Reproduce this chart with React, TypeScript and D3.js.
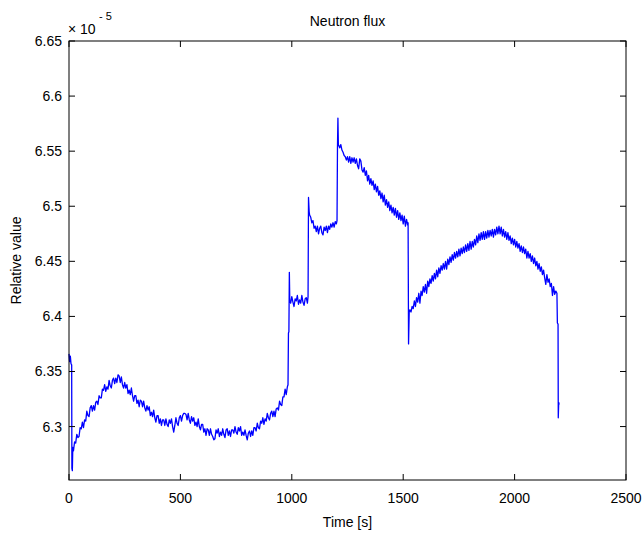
import React from "react";
import * as d3 from "d3";

const title = "Neutron flux";
const xLabel = "Time [s]";
const yLabel = "Relative value";
const xTicks = [0, 500, 1000, 1500, 2000, 2500];
const yTicks = [6.3, 6.35, 6.4, 6.45, 6.5, 6.55, 6.6, 6.65];
const yTickLabels = ["6.3", "6.35", "6.4", "6.45", "6.5", "6.55", "6.6", "6.65"];
const xDomain = [0, 2500];
const yDomain = [6.2515, 6.65];

// [time (s), relative value ×1e-5]
const fluxStart: [number, number][] = [
  [0, 6.366], [3, 6.359], [6, 6.364], [9, 6.357], [12, 6.356], [13, 6.262], [15, 6.26], [17, 6.281], [20, 6.278],
  [25, 6.286], [30, 6.285], [35, 6.293], [40, 6.29], [45, 6.291], [50, 6.299], [55, 6.298], [60, 6.304],
  [65, 6.299], [70, 6.306], [75, 6.305], [80, 6.314], [85, 6.31], [90, 6.309], [95, 6.317], [100, 6.319],
  [105, 6.314], [110, 6.319], [115, 6.315], [120, 6.322], [125, 6.323], [130, 6.32], [135, 6.328], [140, 6.326],
  [145, 6.326], [150, 6.334], [155, 6.333], [160, 6.338], [165, 6.332], [170, 6.336], [175, 6.334], [180, 6.342],
  [185, 6.337], [190, 6.335], [195, 6.342], [200, 6.344], [205, 6.339], [210, 6.344], [215, 6.34], [220, 6.347],
  [225, 6.346], [230, 6.34], [235, 6.345], [240, 6.338], [245, 6.335], [250, 6.34], [255, 6.335], [260, 6.338],
  [265, 6.33], [270, 6.333], [275, 6.329], [280, 6.335], [285, 6.328], [290, 6.323], [295, 6.328], [300, 6.328],
  [305, 6.321], [310, 6.324], [315, 6.318], [320, 6.324], [325, 6.323], [330, 6.318], [335, 6.323], [340, 6.317],
  [345, 6.314], [350, 6.319], [355, 6.315], [360, 6.318], [365, 6.31], [370, 6.313], [375, 6.309], [380, 6.315],
  [385, 6.308], [390, 6.304], [395, 6.31], [400, 6.31], [405, 6.303], [410, 6.307], [415, 6.301], [420, 6.306],
  [425, 6.306], [430, 6.301], [435, 6.307], [440, 6.302], [445, 6.3], [450, 6.306], [455, 6.303], [460, 6.307],
  [465, 6.3], [470, 6.295], [475, 6.301], [480, 6.308], [485, 6.303], [490, 6.301], [495, 6.308], [500, 6.31],
  [505, 6.305], [510, 6.31], [515, 6.312], [520, 6.312], [525, 6.311], [530, 6.306], [535, 6.312], [540, 6.306],
  [545, 6.303], [550, 6.309], [555, 6.305], [560, 6.308], [565, 6.301], [570, 6.304], [575, 6.3], [580, 6.307],
  [585, 6.3], [590, 6.297], [595, 6.302], [600, 6.302], [605, 6.295], [610, 6.298], [615, 6.292], [620, 6.298],
  [625, 6.297], [630, 6.292], [635, 6.298], [640, 6.293], [645, 6.291], [650, 6.288], [655, 6.289], [660, 6.297],
  [665, 6.294], [670, 6.298], [675, 6.291], [680, 6.295], [685, 6.292], [690, 6.298], [695, 6.293], [700, 6.29],
  [705, 6.297], [710, 6.298], [715, 6.292], [720, 6.296], [725, 6.291], [730, 6.297], [735, 6.297], [740, 6.294],
  [745, 6.3], [750, 6.295], [755, 6.293], [760, 6.299], [765, 6.296], [770, 6.3], [775, 6.292], [780, 6.295],
  [785, 6.292], [790, 6.297], [795, 6.292], [800, 6.288], [805, 6.294], [810, 6.296], [815, 6.291], [820, 6.296],
  [825, 6.292], [830, 6.299], [835, 6.299], [840, 6.296], [845, 6.303], [850, 6.299], [855, 6.298], [860, 6.305],
  [865, 6.303], [870, 6.308], [875, 6.302], [880, 6.307], [885, 6.305], [890, 6.312], [895, 6.308], [900, 6.306],
  [905, 6.312], [910, 6.314], [915, 6.309], [920, 6.314], [925, 6.309], [930, 6.316], [935, 6.317], [940, 6.315],
  [945, 6.323], [950, 6.32], [955, 6.319], [960, 6.327], [965, 6.327], [970, 6.334], [975, 6.329], [980, 6.336],
  [983, 6.338],
];

const fluxSteps: [number, number][] = [
  [985, 6.385], [987, 6.386], [989, 6.44], [991, 6.414], [995, 6.412], [1000, 6.418], [1005, 6.413],
  [1010, 6.409], [1015, 6.416], [1020, 6.414], [1025, 6.419], [1030, 6.411], [1035, 6.415], [1040, 6.412],
  [1045, 6.419], [1050, 6.413], [1055, 6.41], [1060, 6.416], [1065, 6.417], [1070, 6.412], [1073, 6.418],
  [1075, 6.508], [1078, 6.495], [1080, 6.492], [1085, 6.49], [1090, 6.485], [1095, 6.487], [1100, 6.48],
  [1105, 6.482], [1110, 6.477], [1115, 6.482], [1120, 6.475], [1125, 6.48], [1130, 6.482], [1135, 6.476],
  [1140, 6.474], [1145, 6.481], [1150, 6.478], [1155, 6.482], [1160, 6.476], [1165, 6.482], [1170, 6.479],
  [1175, 6.484], [1180, 6.481], [1185, 6.485], [1190, 6.481], [1195, 6.486], [1200, 6.484], [1203, 6.487],
  [1205, 6.553], [1207, 6.58], [1209, 6.556], [1215, 6.553], [1220, 6.556], [1225, 6.551], [1230, 6.549],
  [1235, 6.546], [1240, 6.545], [1245, 6.542], [1250, 6.545], [1255, 6.54], [1260, 6.545], [1265, 6.539],
  [1270, 6.544], [1275, 6.54], [1280, 6.544], [1285, 6.539], [1290, 6.543], [1295, 6.537], [1300, 6.534],
  [1305, 6.543], [1310, 6.541], [1315, 6.533], [1320, 6.531], [1325, 6.535], [1330, 6.528], [1335, 6.532],
  [1340, 6.523], [1345, 6.528], [1350, 6.52], [1355, 6.525], [1360, 6.519], [1365, 6.523], [1370, 6.515],
  [1375, 6.52], [1380, 6.513], [1385, 6.518], [1390, 6.51], [1395, 6.514], [1400, 6.507], [1405, 6.512],
  [1410, 6.504], [1415, 6.51], [1420, 6.501], [1425, 6.506], [1430, 6.499], [1435, 6.504], [1440, 6.496],
  [1445, 6.501], [1450, 6.494], [1455, 6.499], [1460, 6.492], [1465, 6.498], [1470, 6.49], [1475, 6.496],
  [1480, 6.488], [1485, 6.494], [1490, 6.487], [1495, 6.492], [1500, 6.484], [1505, 6.491], [1510, 6.482],
  [1515, 6.488], [1520, 6.483], [1522, 6.485], [1524, 6.375], [1527, 6.404],
];

const fluxEnd: [number, number][] = [
  [1530, 6.406], [1535, 6.404], [1540, 6.409], [1545, 6.407], [1550, 6.414], [1555, 6.409], [1560, 6.417],
  [1565, 6.413], [1570, 6.421], [1575, 6.412], [1580, 6.423], [1585, 6.419], [1590, 6.427], [1595, 6.422],
  [1600, 6.429], [1605, 6.421], [1610, 6.432], [1615, 6.427], [1620, 6.434], [1625, 6.43], [1630, 6.437],
  [1635, 6.432], [1640, 6.439], [1645, 6.434], [1650, 6.442], [1655, 6.436], [1660, 6.444], [1665, 6.439],
  [1670, 6.446], [1675, 6.442], [1680, 6.448], [1685, 6.443], [1690, 6.45], [1695, 6.443], [1700, 6.452],
  [1705, 6.447], [1710, 6.454], [1715, 6.449], [1720, 6.456], [1725, 6.451], [1730, 6.458], [1735, 6.453],
  [1740, 6.459], [1745, 6.454], [1750, 6.461], [1755, 6.455], [1760, 6.462], [1765, 6.457], [1770, 6.463],
  [1775, 6.458], [1780, 6.465], [1785, 6.459], [1790, 6.466], [1795, 6.46], [1800, 6.468], [1805, 6.461],
  [1810, 6.468], [1815, 6.463], [1820, 6.47], [1825, 6.465], [1830, 6.473], [1835, 6.467], [1840, 6.475],
  [1845, 6.469], [1850, 6.476], [1855, 6.47], [1860, 6.477], [1865, 6.47], [1870, 6.477], [1875, 6.471],
  [1880, 6.478], [1885, 6.472], [1890, 6.478], [1895, 6.473], [1900, 6.479], [1905, 6.472], [1910, 6.479],
  [1915, 6.474], [1920, 6.481], [1925, 6.475], [1930, 6.482], [1935, 6.475], [1940, 6.481], [1945, 6.473],
  [1950, 6.479], [1955, 6.472], [1960, 6.477], [1965, 6.47], [1970, 6.476], [1975, 6.469], [1980, 6.473],
  [1985, 6.466], [1990, 6.471], [1995, 6.465], [2000, 6.47], [2005, 6.463], [2010, 6.468], [2015, 6.462],
  [2020, 6.466], [2025, 6.459], [2030, 6.464], [2035, 6.458], [2040, 6.463], [2045, 6.457], [2050, 6.461],
  [2055, 6.453], [2060, 6.459], [2065, 6.453], [2070, 6.457], [2075, 6.45], [2080, 6.455], [2085, 6.448],
  [2090, 6.453], [2095, 6.446], [2100, 6.45], [2105, 6.443], [2110, 6.448], [2115, 6.441], [2120, 6.445],
  [2125, 6.438], [2130, 6.442], [2135, 6.435], [2140, 6.429], [2145, 6.438], [2150, 6.431], [2155, 6.434],
  [2160, 6.427], [2165, 6.43], [2170, 6.419], [2175, 6.427], [2180, 6.42], [2185, 6.423], [2190, 6.421],
  [2192, 6.394], [2195, 6.393], [2196, 6.308], [2198, 6.322], [2200, 6.32],
];

const fluxSamples: [number, number][] = [...fluxStart, ...fluxSteps, ...fluxEnd];

const W = 642;
const H = 533;
const left = 69;
const right = 626;
const top = 41;
const bottom = 480;
const font = "'Liberation Sans', Arial, Helvetica, sans-serif";
const fs = 14;
const tickLen = 6;

export default function App() {
  const x = d3.scaleLinear().domain(xDomain).range([left, right]);
  const y = d3.scaleLinear().domain(yDomain).range([bottom, top]);
  const line = d3
    .line<[number, number]>()
    .x((d) => x(d[0]))
    .y((d) => y(d[1]));

  return (
    <svg
      width={W}
      height={H}
      style={{ position: "absolute", left: 0, top: 0, background: "#fff" }}
      fontFamily={font}
    >
      <rect x={0} y={0} width={W} height={H} fill="#fff" />
      <path d={line(fluxSamples) || ""} fill="none" stroke="#0000ff" strokeWidth={1.3} strokeLinejoin="round" />
      <rect x={left} y={top} width={right - left} height={bottom - top} fill="none" stroke="#000" strokeWidth={1} />
      {xTicks.map((t) => (
        <g key={"x" + t}>
          <line x1={x(t)} x2={x(t)} y1={bottom} y2={bottom - tickLen} stroke="#000" />
          <line x1={x(t)} x2={x(t)} y1={top} y2={top + tickLen} stroke="#000" />
          <text x={x(t)} y={503} fontSize={fs} textAnchor="middle" fill="#000">
            {t}
          </text>
        </g>
      ))}
      {yTicks.map((t, i) => (
        <g key={"y" + t}>
          <line x1={left} x2={left + tickLen} y1={y(t)} y2={y(t)} stroke="#000" />
          <line x1={right} x2={right - tickLen} y1={y(t)} y2={y(t)} stroke="#000" />
          <text x={62} y={y(t) + 5} fontSize={fs} textAnchor="end" fill="#000">
            {yTickLabels[i]}
          </text>
        </g>
      ))}
      <text x={68} y={34} fontSize={fs} fill="#000">
        {"\u00d7 10"}
      </text>
      <text x={99} y={20} fontSize={11} fill="#000">
        {"- 5"}
      </text>
      <text x={(left + right) / 2} y={26} fontSize={fs} textAnchor="middle" fill="#000">
        {title}
      </text>
      <text x={(left + right) / 2} y={527} fontSize={fs} textAnchor="middle" fill="#000">
        {xLabel}
      </text>
      <text
        transform={`translate(21, ${(top + bottom) / 2}) rotate(-90)`}
        fontSize={fs}
        textAnchor="middle"
        fill="#000"
      >
        {yLabel}
      </text>
    </svg>
  );
}
